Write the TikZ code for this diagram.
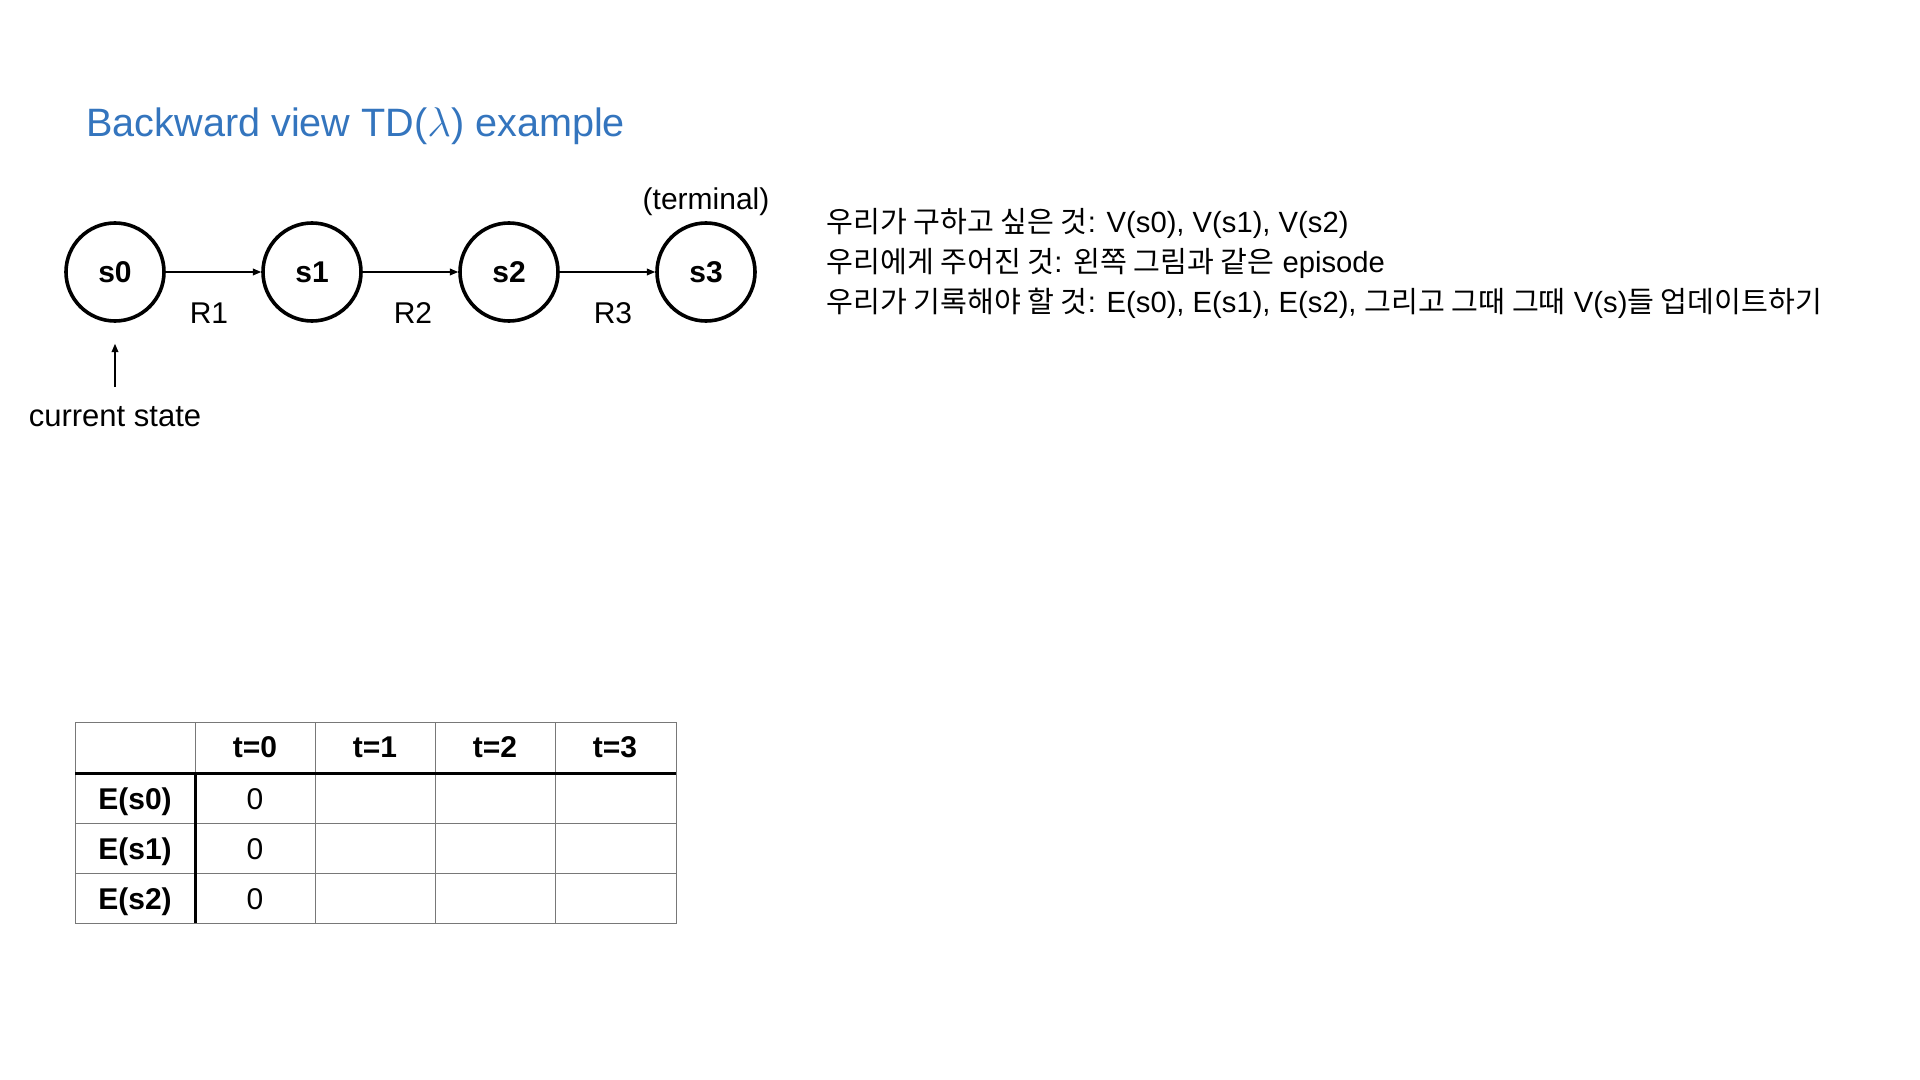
\documentclass[tikz,border=0pt]{standalone}
\usepackage{fontspec}
\setmainfont{Liberation Sans}
\newfontfamily\kr{Noto Sans CJK KR}
\usetikzlibrary{arrows.meta}
\definecolor{titleblue}{RGB}{52,117,190}
\definecolor{gridgray}{RGB}{120,120,120}
\begin{document}
\begin{tikzpicture}[x=0.5pt,y=-0.5pt,
  state/.style={circle,draw,line width=1.8pt,minimum size=49pt,inner sep=0pt,font=\fontsize{15}{18}\selectfont\bfseries},
  lbl/.style={font=\fontsize{15}{18}\selectfont,inner sep=0pt},
  korean/.style={font=\fontsize{14.6}{17}\selectfont,inner sep=0pt,anchor=base west},
  arr/.style={-{Triangle[length=4.2pt,width=3.4pt]},line width=0.65pt},
  gridline/.style={draw=gridgray,line width=0.5pt},
  boldline/.style={draw=black,line width=1.5pt},
  cellb/.style={font=\fontsize{15}{18}\selectfont\bfseries,inner sep=0pt},
  cell/.style={font=\fontsize{15}{18}\selectfont,inner sep=0pt}]
\useasboundingbox (0,0) rectangle (1920,1080);
\fill[white] (0,0) rectangle (1920,1080);

\node[anchor=base west,inner sep=0pt,text=titleblue,font=\fontsize{19.8}{23}\selectfont] (title) at (86,137) {Backward view TD($\lambda$) example};

\node[state] (s0) at (115,272) {s0};
\node[state] (s1) at (312,272) {s1};
\node[state] (s2) at (509,272) {s2};
\node[state] (s3) at (706,272) {s3};

\draw[arr] (s0) -- (s1);
\draw[arr] (s1) -- (s2);
\draw[arr] (s2) -- (s3);

\node[lbl] (r1) at (209,313) {R1};
\node[lbl] (r2) at (413,313) {R2};
\node[lbl] (r3) at (613,313) {R3};
\node[lbl] (term) at (706,202) {(terminal)};

\node[lbl,anchor=north,font=\fontsize{15.5}{18}\selectfont] (cs) at (115,406) {current state};
\coordinate (csfoot) at (115,387);
\draw[arr,shorten >=10.5pt] (csfoot) -- (s0.south);

\node[korean] (line1) at (826,233) {{\kr 우리가 구하고 싶은 것}: V(s0), V(s1), V(s2)};
\node[korean] (line2) at (826,273) {{\kr 우리에게 주어진 것}: {\kr 왼쪽 그림과 같은} episode};
\node[korean] (line3) at (826,313) {{\kr 우리가 기록해야 할 것}: E(s0), E(s1), E(s2), {\kr 그리고 그때 그때} V(s){\kr 들 업데이트하기}};

% table
\draw[gridline] (75,722) rectangle (676,923);
\foreach \x in {315,435,555} \draw[gridline] (\x,722) -- (\x,923);
\draw[gridline] (195,722) -- (195,773);
\foreach \y in {823,873} \draw[gridline] (75,\y) -- (676,\y);
\draw[boldline] (75,773) -- (676,773);
\draw[boldline] (195,773) -- (195,923);

\node[cellb] (h0) at (255,747) {t=0};
\node[cellb] (h1) at (375,747) {t=1};
\node[cellb] (h2) at (495,747) {t=2};
\node[cellb] (h3) at (615,747) {t=3};
\node[cellb] (e0) at (135,802) {E(s0)};
\node[cellb] (e1) at (135,852) {E(s1)};
\node[cellb] (e2) at (135,902) {E(s2)};
\node[cell] (v0) at (255,799) {0};
\node[cell] (v1) at (255,849) {0};
\node[cell] (v2) at (255,899) {0};
\end{tikzpicture}
\end{document}
